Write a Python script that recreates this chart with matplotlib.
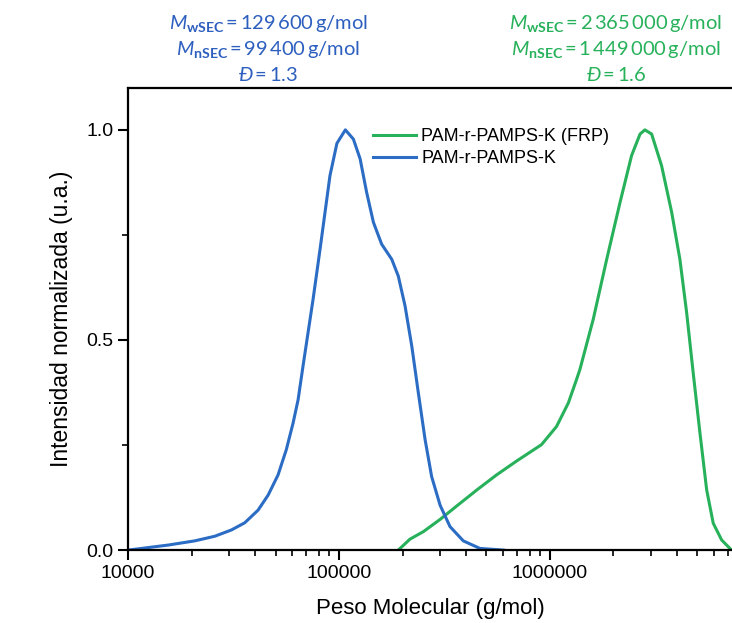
import numpy as np
import matplotlib.pyplot as plt
from matplotlib.ticker import LogLocator, NullFormatter, FixedLocator

plt.rcParams['font.family'] = ['Liberation Sans', 'DejaVu Sans']
plt.rcParams['mathtext.fontset'] = 'custom'
plt.rcParams['mathtext.rm'] = 'Lato'
plt.rcParams['mathtext.it'] = 'Lato:italic'
plt.rcParams['mathtext.bf'] = 'Lato:bold'

# log10(M) and normalized intensity
blue_logm = [4.0, 4.095, 4.19, 4.316, 4.411, 4.49, 4.553, 4.616, 4.664, 4.711,
             4.75, 4.782, 4.806, 4.829, 4.853, 4.877, 4.91, 4.957, 4.99, 5.03,
             5.068, 5.10, 5.131, 5.163, 5.202, 5.25, 5.281, 5.313, 5.345, 5.376,
             5.408, 5.439, 5.479, 5.526, 5.589, 5.668, 5.78]
blue_int = [0.0, 0.006, 0.012, 0.022, 0.033, 0.048, 0.065, 0.095, 0.131, 0.179,
            0.239, 0.302, 0.358, 0.437, 0.517, 0.597, 0.716, 0.891, 0.968, 1.0,
            0.978, 0.931, 0.851, 0.780, 0.728, 0.692, 0.652, 0.581, 0.485, 0.374,
            0.263, 0.175, 0.107, 0.056, 0.022, 0.004, 0.0]

green_logm = [5.281, 5.336, 5.40, 5.479, 5.558, 5.653, 5.747, 5.842, 5.96, 6.031,
              6.087, 6.126, 6.142, 6.205, 6.269, 6.332, 6.387, 6.427, 6.45, 6.482,
              6.529, 6.577, 6.616, 6.648, 6.679, 6.711, 6.743, 6.774, 6.814, 6.861]
green_int = [0.0, 0.026, 0.044, 0.073, 0.105, 0.143, 0.179, 0.212, 0.251, 0.294,
             0.350, 0.406, 0.430, 0.549, 0.692, 0.827, 0.939, 0.990, 1.0, 0.990,
             0.915, 0.804, 0.692, 0.565, 0.422, 0.279, 0.143, 0.064, 0.024, 0.0]

ts = '\u2009'
blue_lines = [r"$\mathit{M}_{\mathbf{wSEC}}$" + ts + "=" + ts + "129" + ts + "600" + ts + "g/mol",
              r"$\mathit{M}_{\mathbf{nSEC}}$" + ts + "=" + ts + "99" + ts + "400" + ts + "g/mol",
              r"$\mathit{Đ}$" + ts + "=" + ts + "1.3"]
green_lines = [r"$\mathit{M}_{\mathbf{wSEC}}$" + ts + "=" + ts + "2" + ts + "365" + ts + "000" + ts + "g/mol",
               r"$\mathit{M}_{\mathbf{nSEC}}$" + ts + "=" + ts + "1" + ts + "449" + ts + "000" + ts + "g/mol",
               r"$\mathit{Đ}$" + ts + "=" + ts + "1.6"]

blue_c = '#2b6cc4'
blue_txt = '#2d5fbf'
green_c = '#27b15a'

fig = plt.figure(figsize=(7.32, 6.23), dpi=100)
ax = fig.add_axes([0.175, 0.117, 0.825, 0.742])

ax.plot(10 ** np.array(green_logm), green_int, color=green_c, lw=2.2,
        solid_joinstyle='round', label='PAM-r-PAMPS-K (FRP)')
ax.plot(10 ** np.array(blue_logm), blue_int, color=blue_c, lw=2.2,
        solid_joinstyle='round', label='PAM-r-PAMPS-K')

ax.set_xscale('log')
ax.set_xlim(1e4, 10 ** 6.863)
ax.set_ylim(0, 1.1)
ax.set_xticks([1e4, 1e5, 1e6])
ax.set_xticklabels(['10000', '100000', '1000000'])
ax.xaxis.set_minor_locator(LogLocator(base=10, subs=np.arange(2, 10)))
ax.xaxis.set_minor_formatter(NullFormatter())
ax.set_yticks([0.0, 0.5, 1.0])
ax.set_yticklabels(['0.0', '0.5', '1.0'])
ax.yaxis.set_minor_locator(FixedLocator([0.25, 0.75]))

ax.tick_params(which='major', direction='out', length=7, width=1.5, labelsize=14, top=False, right=False)
ax.tick_params(which='minor', direction='out', length=4, width=1.2, top=False, right=False)
for s in ['left', 'bottom', 'top']:
    ax.spines[s].set_linewidth(1.6)
ax.spines['right'].set_visible(False)

ax.set_xlabel('Peso Molecular (g/mol)', fontsize=16, labelpad=12)
ax.set_ylabel('Intensidad normalizada (u.a.)', fontsize=16.5, labelpad=10)

ax.legend(loc='upper left', bbox_to_anchor=(0.405, 0.913), frameon=False, fontsize=13,
          handlelength=2.4, handletextpad=0.3, borderpad=0, borderaxespad=0, labelspacing=0.3)

line_y = [23, 50, 75]
for yy, bt, gt in zip(line_y, blue_lines, green_lines):
    fig.text(268 / 732, 1 - yy / 623, bt, color=blue_txt, fontsize=14.5,
             family=['Lato', 'DejaVu Sans'], ha='center', va='center')
    fig.text(616 / 732, 1 - yy / 623, gt, color=green_c, fontsize=14.5,
             family=['Lato', 'DejaVu Sans'], ha='center', va='center')

fig.savefig('out.png', dpi=100)
